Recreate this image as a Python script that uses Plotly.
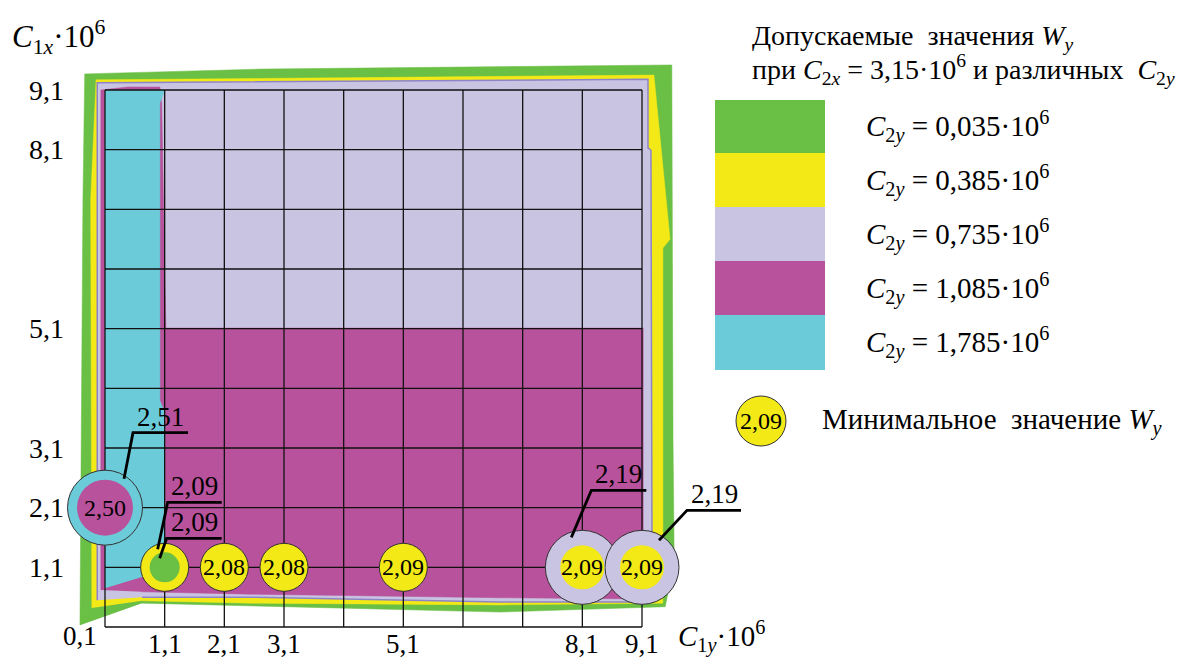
import plotly.graph_objects as go

# ---------------------------------------------------------------- data
# grid nodes of C1y (horizontal) and C1x (vertical), units of 10^6
grid_vals = [0.1, 1.1, 2.1, 3.1, 4.1, 5.1, 6.1, 7.1, 8.1, 9.1]
x_ticks = [1.1, 2.1, 3.1, 5.1, 8.1, 9.1]
y_ticks = [1.1, 2.1, 3.1, 5.1, 8.1, 9.1]
origin_tick = 0.1

# permissible regions of W_y for C2x = 3.15e6 and various C2y (C1y, C1x)
c2y_labels = ["0,035", "0,385", "0,735", "1,085", "1,785"]

green_x = [-0.32, -0.27, -0.24, 2.70, 9.60, 9.62, 9.64, 9.49, 6.72, 2.53, 0.72]
green_y = [0.13, 7.26, 9.37, 9.45, 9.52, 3.23, 1.22, 0.44, 0.35, 0.45, 0.50]

yellow_x = [-0.12, -0.14, -0.05, 9.30, 9.57, 9.45, 9.45, 6.72, 2.53, 0.72]
yellow_y = [0.42, 7.26, 9.27, 9.35, 6.60, 6.45, 0.50, 0.47, 0.50, 0.54]

lavender_x = [-0.03, -0.03, 9.20, 9.20, 9.25, 9.27, 6.72, 2.53, 0.72]
lavender_y = [0.55, 9.22, 9.28, 8.13, 8.09, 0.52, 0.52, 0.60, 0.60]

magenta_x = [0.03, 0.03, 0.48, 1.02, 1.05, 1.12, 9.12, 9.12, 6.72, 2.53, 0.72]
magenta_y = [0.72, 9.10, 9.15, 9.15, 8.88, 5.11, 5.11, 0.57, 0.59, 0.65, 0.69]

cyan_x = [0.1, 0.1, 1.1, 1.02, 1.02, 1.10, 1.10, 0.72]
cyan_y = [0.75, 9.1, 9.1, 8.88, 3.90, 3.70, 1.25, 0.94]

# minimum values of W_y
min_x = [0.1, 1.1, 2.1, 3.1, 5.1, 8.1, 9.1]
min_y = [2.1, 1.1, 1.1, 1.1, 1.1, 1.1, 1.1]
min_w = ["2,50", "", "2,08", "2,08", "2,09", "2,09", "2,09"]

# call-out values: (point index, value)
callout_pt = [0, 1, 1, 5, 6]
callout_w = ["2,51", "2,09", "2,09", "2,19", "2,19"]

# ---------------------------------------------------------------- styles
W, H = 1196, 660
S = 537 / 9.0            # pixels per unit


def dx(px):
    return 0.1 + (px - 105) / S


def dy(py):
    return 0.1 + (627 - py) / S


def ox(p):
    return p / S


def oy(p):
    return -p / S


GREEN = "#6abf45"
YELLOW = "#f2e916"
LAVENDER = "#c8c4e2"
MAGENTA = "#b8529c"
CYAN = "#6bcbd9"
FONT = '"Times New Roman", "Liberation Serif", serif'

outer_col = [CYAN, YELLOW, YELLOW, YELLOW, YELLOW, LAVENDER, LAVENDER]
outer_size = [75, 48, 48, 48, 48, 74, 74]
inner_col = [MAGENTA, GREEN, None, None, None, YELLOW, YELLOW]
inner_size = [56, 30, 0, 0, 0, 44, 44]

# leader geometry in px relative to the point: start, elbow, end
callout_geo = [
    [(19, -29), (28, -75), (83, -75)],
    [(-7, -18), (3, -65), (57, -65)],
    [(-5, -9), (2, -29), (57, -29)],
    [(-11, -30), (9, -77), (64, -77)],
    [(17, -27), (45, -57), (99, -57)],
]

fig = go.Figure()

# regions
for xs, ys, col, lc in [
    (green_x, green_y, GREEN, GREEN),
    (yellow_x, yellow_y, YELLOW, YELLOW),
    (lavender_x, lavender_y, LAVENDER, "#8e84c8"),
    (magenta_x, magenta_y, MAGENTA, MAGENTA),
    (cyan_x, cyan_y, CYAN, CYAN),
]:
    fig.add_trace(go.Scatter(x=xs, y=ys, fill="toself", fillcolor=col, mode="lines",
                             line=dict(color=lc, width=1.5 if lc != col else 0.5),
                             hoverinfo="skip", showlegend=False))

# grid
gx, gy = [], []
lo, hi = grid_vals[0], grid_vals[-1]
for v in grid_vals:
    gx += [v, v, None, lo, hi, None]
    gy += [lo, hi, None, v, v, None]
fig.add_trace(go.Scatter(x=gx, y=gy, mode="lines", line=dict(color="#111111", width=1.3),
                         hoverinfo="skip", showlegend=False))

# minimum-value circles
fig.add_trace(go.Scatter(x=min_x, y=min_y, mode="markers",
                         marker=dict(size=outer_size, color=outer_col, opacity=1,
                                     line=dict(color="#333333", width=1)),
                         hoverinfo="skip", showlegend=False))
ix = [i for i in range(len(min_x)) if inner_col[i]]
fig.add_trace(go.Scatter(x=[min_x[i] for i in ix], y=[min_y[i] for i in ix], mode="markers",
                         marker=dict(size=[inner_size[i] for i in ix], opacity=1,
                                     color=[inner_col[i] for i in ix], line=dict(width=0)),
                         hoverinfo="skip", showlegend=False))

annotations = []
for x, y, t in zip(min_x, min_y, min_w):
    if t:
        annotations.append(dict(x=x, y=y, text=t, showarrow=False,
                                font=dict(family=FONT, size=24, color="black")))

# call-outs
for k, (pi, val) in enumerate(zip(callout_pt, callout_w)):
    x0, y0 = min_x[pi], min_y[pi]
    pts = callout_geo[k]
    fig.add_trace(go.Scatter(x=[x0 + ox(p[0]) for p in pts], y=[y0 + oy(p[1]) for p in pts],
                             mode="lines", line=dict(color="black", width=2.8),
                             hoverinfo="skip", showlegend=False))
    mx = x0 + ox((pts[1][0] + pts[2][0]) / 2)
    annotations.append(dict(x=mx, y=y0 + oy(pts[2][1]), text=val, showarrow=False,
                            yanchor="bottom", yshift=-1,
                            font=dict(family=FONT, size=27, color="black")))

# tick labels
for v in x_ticks:
    annotations.append(dict(x=v, y=origin_tick, text=f"{v:.1f}".replace(".", ","),
                            showarrow=False, yanchor="middle", yshift=-17,
                            font=dict(family=FONT, size=27, color="black")))
for v in y_ticks:
    annotations.append(dict(x=origin_tick, y=v, text=f"{v:.1f}".replace(".", ","),
                            showarrow=False, xanchor="right", xshift=-39,
                            font=dict(family=FONT, size=28, color="black")))
annotations.append(dict(x=origin_tick, y=origin_tick, text=f"{origin_tick:.1f}".replace(".", ","),
                        showarrow=False, xshift=-25, yshift=-9,
                        font=dict(family=FONT, size=27, color="black")))

# axis titles
annotations.append(dict(x=dx(10), y=dy(37), xanchor="left", showarrow=False,
                        text="<i>C</i><sub>1<i>x</i></sub>·10<sup>6</sup>",
                        font=dict(family=FONT, size=31, color="black")))
annotations.append(dict(x=dx(676), y=dy(636), xanchor="left", showarrow=False,
                        text="<i>C</i><sub>1<i>y</i></sub>·10<sup>6</sup>",
                        font=dict(family=FONT, size=29, color="black")))

# legend
annotations.append(dict(x=dx(750), y=dy(37), xanchor="left", showarrow=False,
                        text="Допускаемые\u00a0 значения <i>W<sub>y</sub></i>",
                        font=dict(family=FONT, size=28, color="black")))
annotations.append(dict(x=dx(750), y=dy(69), xanchor="left", showarrow=False,
                        text="при <i>C</i><sub>2<i>x</i></sub> = 3,15·10<sup>6</sup> и различных\u00a0 <i>C</i><sub>2<i>y</i></sub>",
                        font=dict(family=FONT, size=28, color="black")))

shapes = []
box_top = [100, 153, 207, 261, 315]
box_bot = [153, 207, 261, 315, 370]
for lab, col, t, b in zip(c2y_labels, [GREEN, YELLOW, LAVENDER, MAGENTA, CYAN], box_top, box_bot):
    shapes.append(dict(type="rect", x0=dx(715), x1=dx(825), y0=dy(b), y1=dy(t),
                       fillcolor=col, line=dict(width=0), layer="below"))
    annotations.append(dict(x=dx(864), y=dy((t + b) / 2), xanchor="left", showarrow=False,
                            text=f"<i>C</i><sub>2<i>y</i></sub> = {lab}·10<sup>6</sup>",
                            font=dict(family=FONT, size=29, color="black")))

fig.add_trace(go.Scatter(x=[dx(761)], y=[dy(421)], mode="markers",
                         marker=dict(size=50, color=YELLOW, opacity=1,
                                     line=dict(color="#333333", width=1)),
                         hoverinfo="skip", showlegend=False))
annotations.append(dict(x=dx(761), y=dy(421), text=min_w[4], showarrow=False,
                        font=dict(family=FONT, size=24, color="black")))
annotations.append(dict(x=dx(820), y=dy(421), xanchor="left", showarrow=False,
                        text="Минимальное\u00a0 значение <i>W<sub>y</sub></i>",
                        font=dict(family=FONT, size=29, color="black")))

fig.update_layout(
    width=W, height=H, autosize=False,
    margin=dict(l=0, r=0, t=0, b=0, pad=0),
    paper_bgcolor="white", plot_bgcolor="white",
    xaxis=dict(range=[dx(0), dx(W)], visible=False, fixedrange=True),
    yaxis=dict(range=[dy(H), dy(0)], visible=False, fixedrange=True),
    annotations=annotations, shapes=shapes,
)

fig.write_html("out.html")
